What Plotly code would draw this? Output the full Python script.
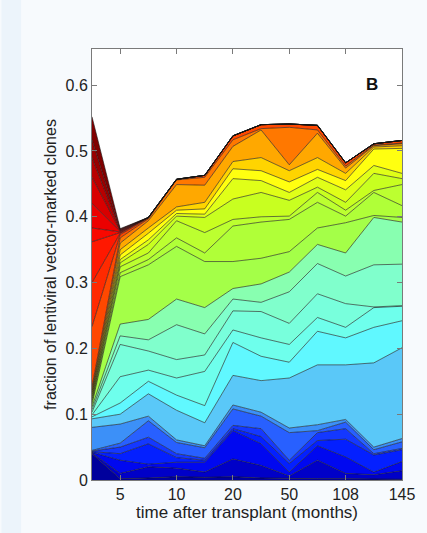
import plotly.graph_objects as go

# sample positions along the x axis (12 sampling times, plotted by order)
sample_index = [0, 1, 2, 3, 4, 5, 6, 7, 8, 9, 10, 11]
x_tick_pos = [1, 3, 5, 7, 9, 11]
x_tick_labels = ["5", "10", "20", "50", "108", "145"]
y_tick_vals = [0, 0.1, 0.2, 0.3, 0.4, 0.5, 0.6]
y_tick_labels = ["0", "0.1", "0.2", "0.3", "0.4", "0.5", "0.6"]

# cumulative upper boundary of each stacked clone layer (bottom -> top)
b01 = [0.040, 0.002, 0.003, 0.005, 0.004, 0.005, 0.003, 0.002, 0.002, 0.002, 0.002, 0.001]
b02 = [0.041, 0.010, 0.020, 0.018, 0.012, 0.032, 0.022, 0.006, 0.030, 0.010, 0.008, 0.014]
b03 = [0.042, 0.030, 0.024, 0.027, 0.027, 0.075, 0.055, 0.012, 0.052, 0.035, 0.012, 0.028]
b04 = [0.043, 0.040, 0.055, 0.034, 0.030, 0.078, 0.066, 0.025, 0.060, 0.062, 0.038, 0.046]
b05 = [0.044, 0.050, 0.065, 0.040, 0.033, 0.083, 0.078, 0.030, 0.072, 0.078, 0.040, 0.048]
b06 = [0.045, 0.056, 0.090, 0.057, 0.049, 0.108, 0.097, 0.072, 0.075, 0.088, 0.046, 0.058]
b07 = [0.080, 0.085, 0.097, 0.061, 0.052, 0.114, 0.103, 0.079, 0.084, 0.092, 0.050, 0.063]
b08 = [0.093, 0.100, 0.131, 0.106, 0.087, 0.159, 0.151, 0.155, 0.175, 0.175, 0.178, 0.201]
b09 = [0.096, 0.117, 0.150, 0.129, 0.113, 0.209, 0.188, 0.179, 0.226, 0.216, 0.232, 0.242]
b10 = [0.099, 0.157, 0.167, 0.155, 0.165, 0.228, 0.216, 0.206, 0.247, 0.232, 0.262, 0.264]
b11 = [0.103, 0.206, 0.196, 0.183, 0.190, 0.257, 0.256, 0.238, 0.283, 0.268, 0.263, 0.265]
b12 = [0.107, 0.219, 0.213, 0.236, 0.222, 0.275, 0.270, 0.286, 0.329, 0.310, 0.327, 0.328]
b13 = [0.111, 0.237, 0.244, 0.275, 0.262, 0.291, 0.298, 0.316, 0.358, 0.345, 0.399, 0.392]
b14 = [0.115, 0.309, 0.327, 0.355, 0.332, 0.332, 0.337, 0.347, 0.383, 0.391, 0.402, 0.399]
b15 = [0.119, 0.315, 0.335, 0.368, 0.345, 0.386, 0.392, 0.396, 0.422, 0.401, 0.437, 0.417]
b16 = [0.122, 0.324, 0.345, 0.394, 0.376, 0.396, 0.400, 0.401, 0.437, 0.410, 0.440, 0.449]
b17 = [0.125, 0.330, 0.358, 0.401, 0.399, 0.427, 0.437, 0.425, 0.445, 0.422, 0.466, 0.458]
b18 = [0.128, 0.335, 0.365, 0.405, 0.404, 0.458, 0.455, 0.437, 0.460, 0.441, 0.478, 0.466]
b19 = [0.131, 0.342, 0.375, 0.410, 0.412, 0.473, 0.470, 0.453, 0.472, 0.455, 0.503, 0.504]
b20 = [0.134, 0.350, 0.383, 0.415, 0.422, 0.484, 0.490, 0.470, 0.490, 0.466, 0.506, 0.508]
b21 = [0.137, 0.360, 0.394, 0.449, 0.448, 0.507, 0.532, 0.479, 0.527, 0.474, 0.508, 0.511]
b22 = [0.142, 0.368, 0.397, 0.456, 0.460, 0.517, 0.534, 0.536, 0.532, 0.477, 0.509, 0.512]
b23 = [0.233, 0.373, 0.398, 0.457, 0.463, 0.523, 0.540, 0.541, 0.539, 0.482, 0.511, 0.516]
b24 = [0.300, 0.375, 0.399, 0.457, 0.463, 0.523, 0.540, 0.541, 0.539, 0.482, 0.511, 0.516]
b25 = [0.362, 0.376, 0.399, 0.457, 0.463, 0.523, 0.540, 0.541, 0.539, 0.482, 0.511, 0.516]
b26 = [0.383, 0.377, 0.399, 0.457, 0.463, 0.523, 0.540, 0.541, 0.539, 0.482, 0.511, 0.516]
b27 = [0.420, 0.378, 0.399, 0.457, 0.463, 0.523, 0.540, 0.541, 0.539, 0.482, 0.511, 0.516]
b28 = [0.460, 0.379, 0.399, 0.457, 0.463, 0.523, 0.540, 0.541, 0.539, 0.482, 0.511, 0.516]
b29 = [0.490, 0.380, 0.399, 0.457, 0.463, 0.523, 0.540, 0.541, 0.539, 0.482, 0.511, 0.516]
b30 = [0.517, 0.381, 0.399, 0.457, 0.463, 0.523, 0.540, 0.541, 0.539, 0.482, 0.511, 0.516]
b31 = [0.552, 0.382, 0.399, 0.457, 0.463, 0.523, 0.540, 0.541, 0.539, 0.482, 0.511, 0.516]

boundaries = [b01, b02, b03, b04, b05, b06, b07, b08, b09, b10, b11, b12, b13, b14, b15, b16,
              b17, b18, b19, b20, b21, b22, b23, b24, b25, b26, b27, b28, b29, b30, b31]

# jet-like layer colours, bottom -> top
layer_colors = ["#00009c", "#0000c8", "#0008f0", "#0420ff", "#1438ff", "#2860ff", "#3c90f8",
                "#5ac8f8", "#60f8ff", "#6effec", "#78ffdc", "#80ffcc", "#88ffb0", "#a4ff48",
                "#b0ff38", "#bcff30", "#c8ff20", "#e0ff18", "#ffff10", "#ffd400", "#ffa800",
                "#ff7800", "#ff4800", "#ff2a00", "#ff1800", "#f80800", "#ec0000", "#d80000",
                "#b80000", "#980000", "#800000"]

fig = go.Figure()
for i, (top, col) in enumerate(zip(boundaries, layer_colors)):
    fig.add_trace(go.Scatter(
        x=sample_index, y=top, mode="lines",
        line=dict(color="rgba(20,20,20,0.85)", width=0.7),
        fill="tozeroy" if i == 0 else "tonexty",
        fillcolor=col, hoverinfo="skip", showlegend=False))

W, H = 427, 533
L, R, T, B = 92, 20, 49, 53
pw = W - L - R
FONT = "Liberation Sans, Arial, sans-serif"

fig.add_shape(type="rect", xref="paper", yref="paper",
              x0=(0 - L) / pw, x1=(20 - L) / pw, y0=-1, y1=2,
              fillcolor="#ecf4fb", line=dict(width=0), layer="below")

fig.add_annotation(text="<b>B</b>", xref="paper", yref="paper",
                   x=(385 - L) / pw, y=(480 - 73) / (H - T - B),
                   showarrow=False, font=dict(family=FONT, size=17, color="#111"))

axis_common = dict(showline=True, linecolor="#7a7a7a", linewidth=1, mirror="ticks",
                   ticks="inside", ticklen=5, tickcolor="#7a7a7a", showgrid=False,
                   zeroline=False, tickfont=dict(family=FONT, size=16, color="#222"))

fig.update_layout(
    width=W, height=H,
    margin=dict(l=L, r=R, t=T, b=B),
    paper_bgcolor="#f7fafd", plot_bgcolor="white",
    xaxis=dict(range=[0, 11], tickvals=x_tick_pos, ticktext=x_tick_labels,
               title=dict(text="time after transplant (months)", standoff=0,
                          font=dict(family=FONT, size=17, color="#222")),
               **axis_common),
    yaxis=dict(range=[0, 0.655], tickvals=y_tick_vals, ticktext=y_tick_labels,
               title=dict(text="fraction of lentiviral vector-marked clones", standoff=4,
                          font=dict(family=FONT, size=16, color="#222")),
               **axis_common),
)

fig.write_html("out.html", config={"displayModeBar": False, "staticPlot": True})

# remove the browser's default page margin so the figure sits at the window origin
with open("out.html", "r", encoding="utf-8") as fh:
    html = fh.read()
html = html.replace("<head>", "<head><style>html,body{margin:0;padding:0;background:#f7fafd;overflow:hidden;}</style>", 1)
with open("out.html", "w", encoding="utf-8") as fh:
    fh.write(html)
